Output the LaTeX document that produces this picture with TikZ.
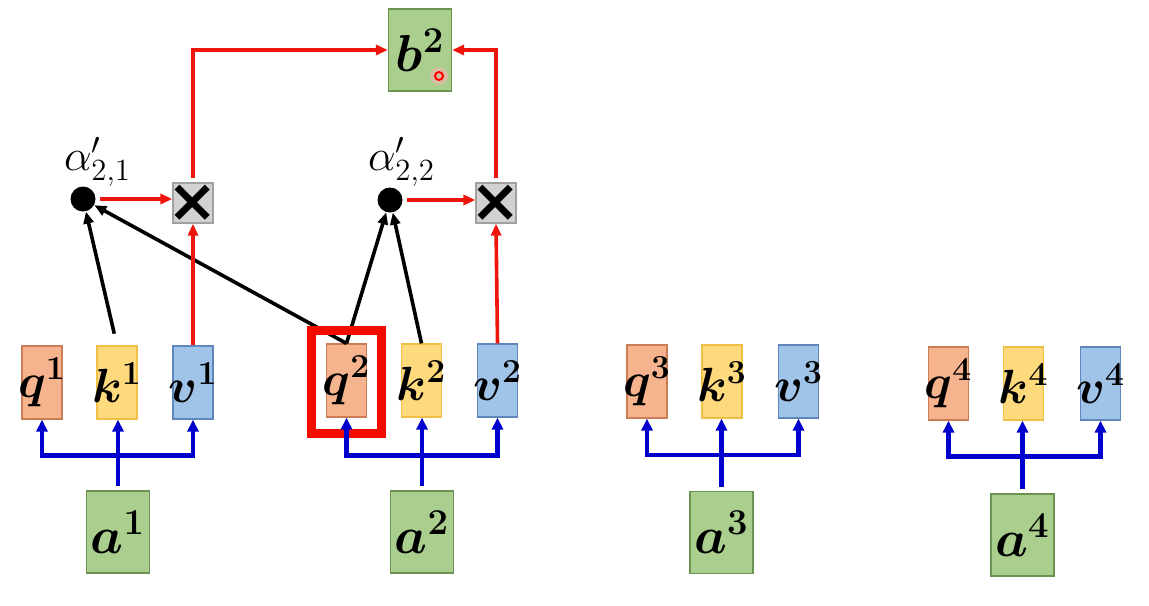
\RequirePackage{fix-cm}
\documentclass[tikz,border=0pt]{standalone}
\usepackage{bm}
\usepackage{fontspec}
\newfontfamily\djv{DejaVu Sans}
\usetikzlibrary{arrows.meta}
\definecolor{qfill}{RGB}{246,180,142}
\definecolor{qdraw}{RGB}{205,125,85}
\definecolor{kfill}{RGB}{255,218,125}
\definecolor{kdraw}{RGB}{240,192,70}
\definecolor{vfill}{RGB}{160,195,232}
\definecolor{vdraw}{RGB}{95,135,190}
\definecolor{gfill}{RGB}{169,206,142}
\definecolor{gdraw}{RGB}{105,148,80}
\definecolor{xfill}{RGB}{210,210,210}
\definecolor{xdraw}{RGB}{160,160,160}
\definecolor{arrred}{RGB}{238,22,12}
\definecolor{framered}{RGB}{242,12,0}
\definecolor{arrblue}{RGB}{0,0,205}
\begin{document}
\begin{tikzpicture}[x=0.5pt,y=-0.5pt,
  cellbox/.style={minimum width=20pt,minimum height=36.5pt,inner sep=0pt,line width=0.6pt,font=\fontsize{24}{28}\selectfont},
  qbox/.style={cellbox,draw=qdraw,fill=qfill},
  kbox/.style={cellbox,draw=kdraw,fill=kfill},
  vbox/.style={cellbox,draw=vdraw,fill=vfill},
  gbox/.style={draw=gdraw,fill=gfill,minimum width=31.5pt,minimum height=41pt,inner sep=0pt,line width=0.6pt,font=\fontsize{26}{30}\selectfont},
  xbox/.style={draw=xdraw,fill=xfill,minimum size=20pt,inner sep=0pt,line width=0.6pt,font=\djv\bfseries\fontsize{30}{30}\selectfont},
  dotn/.style={circle,fill=black,minimum size=12.5pt,inner sep=0pt},
  alab/.style={font=\fontsize{22}{24}\selectfont,inner sep=0pt},
  bluel/.style={draw=arrblue,line width=2.2pt},
  bluearr/.style={draw=arrblue,line width=2.2pt,-{Triangle[length=6pt,width=5.5pt]}},
  redarr/.style={draw=arrred,line width=1.8pt,-{Triangle[length=6pt,width=5pt]}},
  blackarr/.style={draw=black,line width=1.8pt,-{Triangle[length=6pt,width=5pt]}},
  hlframe/.style={draw=framered,line width=4.5pt,minimum width=35pt,minimum height=51.5pt,inner sep=0pt}
]
\fill[white] (0,0) rectangle (1149,605);
\useasboundingbox (0,0) rectangle (1149,605);

% q k v rows
\node[qbox] (q1) at (42,382.5) {\makebox[0pt]{$\bm{q}^{\bm{1}}$}};
\node[kbox] (k1) at (117,382.5) {\makebox[0pt]{$\bm{k}^{\bm{1}}$}};
\node[vbox] (v1) at (193,382.5) {\makebox[0pt]{$\bm{v}^{\bm{1}}$}};
\node[qbox] (q2) at (346.5,380.5) {\makebox[0pt]{$\bm{q}^{\bm{2}}$}};
\node[kbox] (k2) at (421.5,380.5) {\makebox[0pt]{$\bm{k}^{\bm{2}}$}};
\node[vbox] (v2) at (497.5,380.5) {\makebox[0pt]{$\bm{v}^{\bm{2}}$}};
\node[qbox] (q3) at (647,381.5) {\makebox[0pt]{$\bm{q}^{\bm{3}}$}};
\node[kbox] (k3) at (722,381.5) {\makebox[0pt]{$\bm{k}^{\bm{3}}$}};
\node[vbox] (v3) at (798.5,381.5) {\makebox[0pt]{$\bm{v}^{\bm{3}}$}};
\node[qbox] (q4) at (948.5,383.5) {\makebox[0pt]{$\bm{q}^{\bm{4}}$}};
\node[kbox] (k4) at (1023.5,383.5) {\makebox[0pt]{$\bm{k}^{\bm{4}}$}};
\node[vbox] (v4) at (1100.5,383.5) {\makebox[0pt]{$\bm{v}^{\bm{4}}$}};

% inputs
\node[gbox] (a1) at (118,532) {\makebox[0pt]{$\bm{a}^{\bm{1}}$}};
\node[gbox] (a2) at (422,532) {\makebox[0pt]{$\bm{a}^{\bm{2}}$}};
\node[gbox] (a3) at (721.5,532.5) {\makebox[0pt]{$\bm{a}^{\bm{3}}$}};
\node[gbox] (a4) at (1022.5,535) {\makebox[0pt]{$\bm{a}^{\bm{4}}$}};

% output
\node[gbox] (b2) at (420,50) {\makebox[0pt]{$\bm{b}^{\bm{2}}$}};

% attention scores and products
\node[dotn] (dot1) at (83,199) {};
\node[dotn] (dot2) at (390,200) {};
\node[alab] (al1) at (97.5,162) {$\alpha'_{2,1}$};
\node[alab] (al2) at (401.5,162) {$\alpha'_{2,2}$};
\node[xbox] (x1) at (193,203) {\makebox[0pt]{×}};
\node[xbox] (x2) at (496,203) {\makebox[0pt]{×}};

% black arrows
\draw[blackarr,shorten <=6pt] (k1.north) -- (dot1);
\draw[blackarr] (q2.north) -- (dot1);
\draw[blackarr] (q2.north) -- (dot2);
\draw[blackarr] (k2.north) -- (dot2);

% highlight frame
\node[hlframe] (hl) at (346.5,382) {};

% red arrows
\draw[redarr,shorten <=2pt] (dot1) -- (dot1 -| x1.west);
\draw[redarr,shorten <=2pt] (dot2) -- (dot2 -| x2.west);
\draw[redarr] (v1.north) -- (x1.south);
\draw[redarr] (v2.north) -- (x2.south);
\draw[redarr,shorten <=2pt] (x1.north) |- (b2.west);
\draw[redarr,shorten <=2pt] (x2.north) |- (b2.east);

% blue fan-outs
\path (a1.north) ++(0,-35) coordinate (s1);
\path (a2.north) ++(0,-35) coordinate (s2);
\path (a3.north) ++(0,-36) coordinate (s3);
\path (a4.north) ++(0,-37) coordinate (s4);
\foreach \s/\a/\q/\k/\v in {s1/a1/q1/k1/v1,s2/a2/q2/k2/v2,s3/a3/q3/k3/v3,s4/a4/q4/k4/v4}{
  \draw[bluel,shorten <=2pt] (\a.north) -- (\s);
  \draw[bluearr] (\s) -- (\s |- \k.south);
  \draw[bluearr] (\s) -| (\q.south);
  \draw[bluearr] (\s) -| (\v.south);
}

% pointer mark
\node[circle,fill=red!30,opacity=0.55,minimum size=9pt,inner sep=0pt] (glow) at (439,76) {};
\node[circle,draw=red,line width=1pt,minimum size=4pt,inner sep=0pt] (ptr) at (439,76) {};
\end{tikzpicture}
\end{document}
